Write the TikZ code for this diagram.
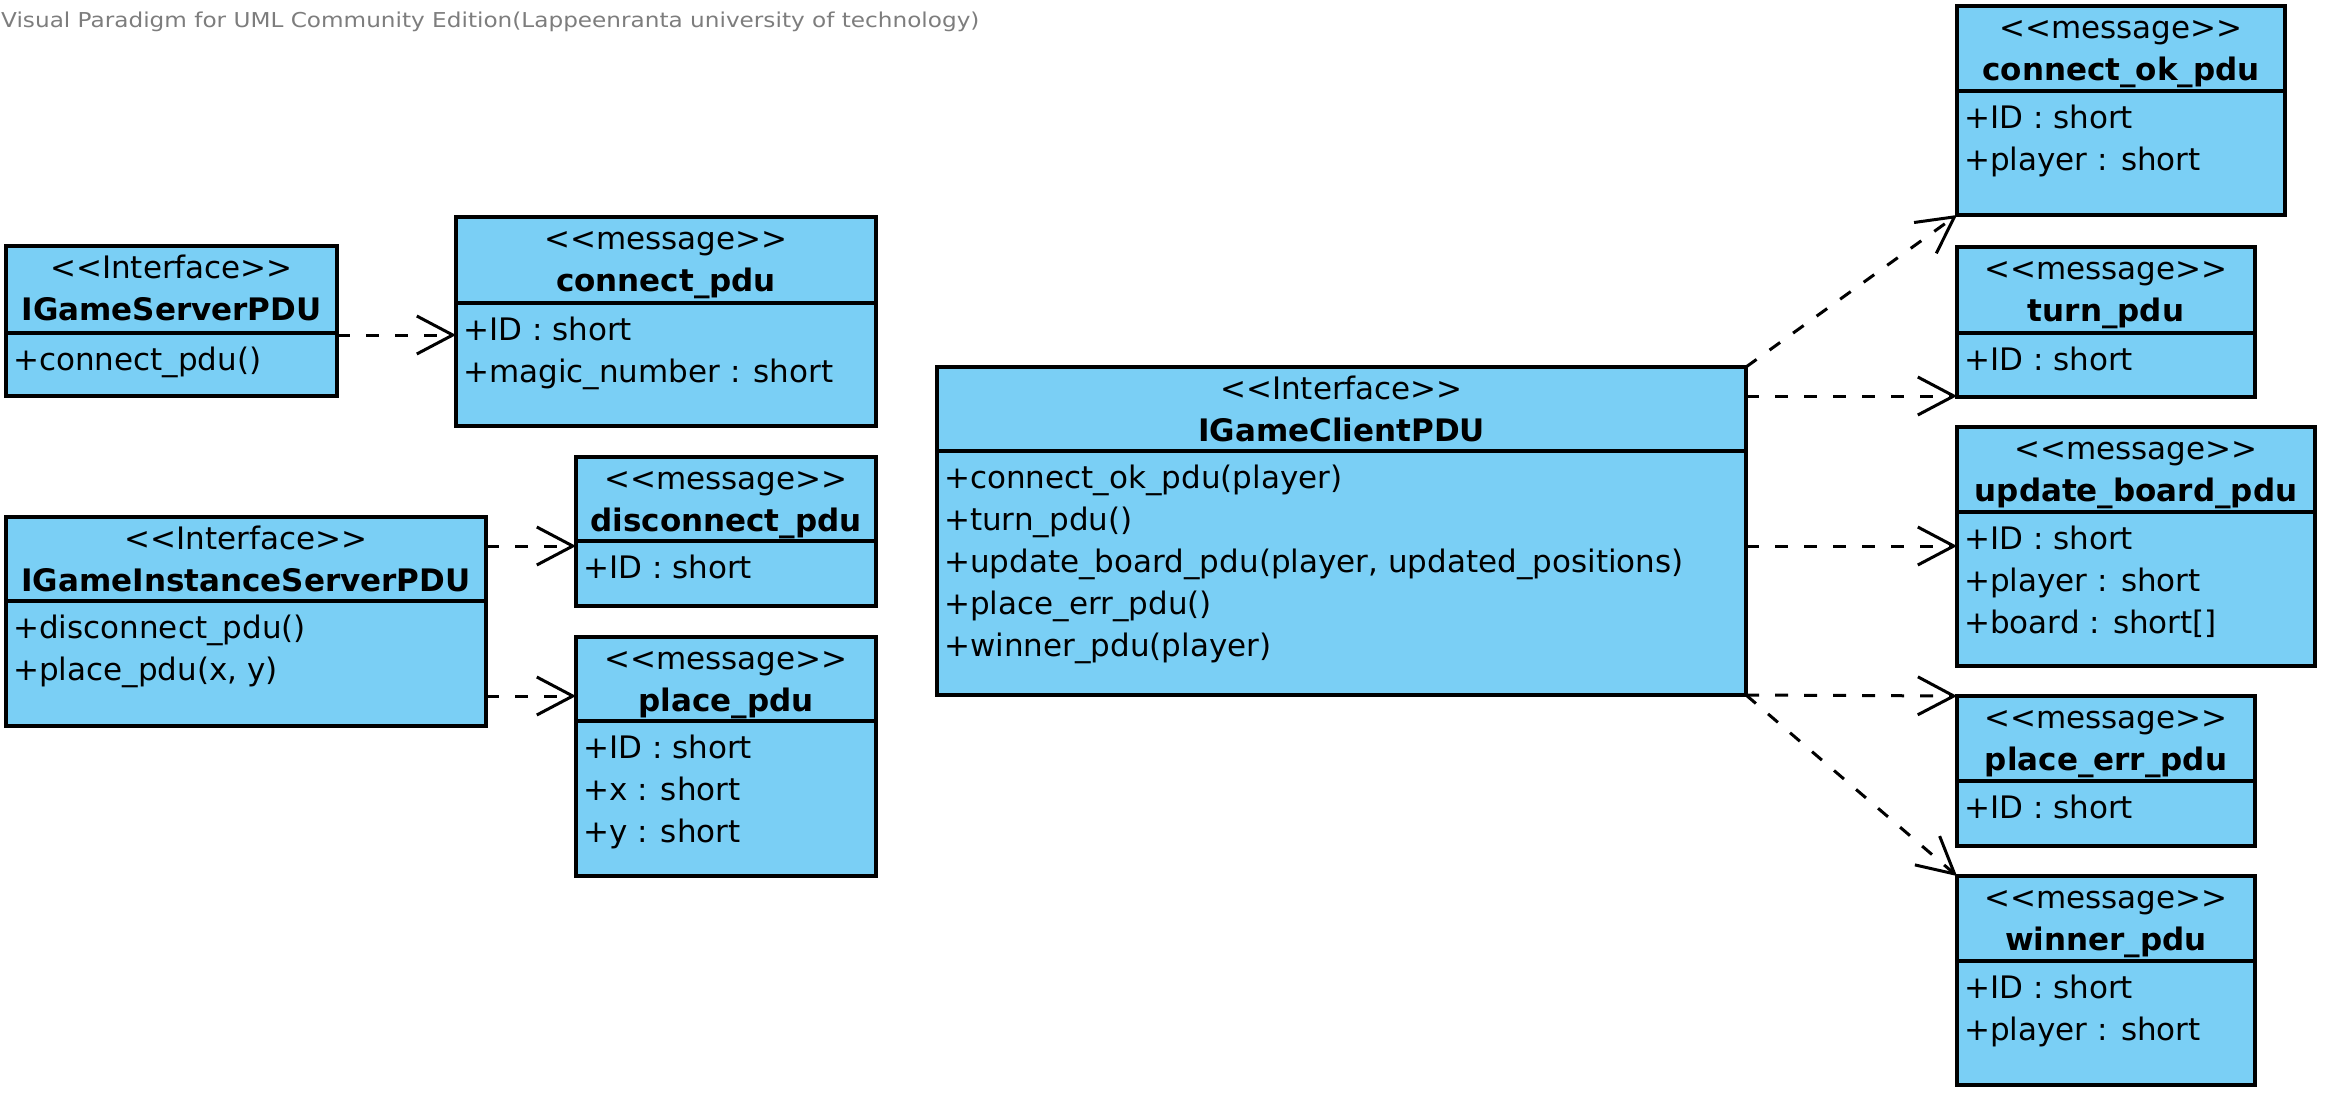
\documentclass[tikz,border=0pt]{standalone}
\usepackage{fontspec}
\setmainfont{DejaVu Sans}
\newfontfamily\wmfont[FakeStretch=1.13]{DejaVu Sans}
\usetikzlibrary{arrows.meta}
\definecolor{umlfill}{RGB}{122,207,245}
\definecolor{wmgray}{RGB}{125,125,125}
\tikzset{
  classbox/.style={draw=black, line width=3.5pt, fill=umlfill, anchor=north west, inner sep=0pt, outer sep=0pt},
  sepline/.style={draw=black, line width=3.5pt},
  headtxt/.style={anchor=north, inner sep=0pt, align=center, font=\fontsize{31}{42}\selectfont},
  attrtxt/.style={anchor=north west, inner sep=0pt, align=left, font=\fontsize{31}{42}\selectfont},
  dep/.style={draw=black, line width=3pt, dash pattern=on 13pt off 16pt, -{Straight Barb[length=36pt, width=38pt]}},
  wm/.style={anchor=base west, inner sep=0pt, text=wmgray, font=\wmfont\fontsize{20.5}{24}\selectfont},
}
\newcommand\umlclass[9]{%
  \node[classbox, minimum width=#4pt, minimum height=#5pt] (#1) at (#2,#3) {};
  \draw[sepline] ([yshift=-#6pt]#1.north west) -- ([yshift=-#6pt]#1.north east);
  \node[headtxt] (#1-head) at ([yshift=-2.6pt]#1.north) {\strut<{}<#7>{}>\\\textbf{#8}};
  \node[attrtxt] (#1-attr) at ([xshift=7pt,yshift=-#6pt-7.6pt]#1.north west) {\strut#9};
}
\begin{document}
\begin{tikzpicture}[x=1pt,y=-1pt]
\useasboundingbox (0,0) rectangle (2328,1098);
\node[wm] (watermark) at (1,27) {Visual Paradigm for UML Community Edition(Lappeenranta university of technology)};

\umlclass{isrv}{6}{246}{331}{150}{87}{Interface}{IGameServerPDU}{+connect\_pdu()}
\umlclass{conn}{456}{217}{420}{209}{86}{message}{connect\_pdu}{+ID : short\\+magic\_number : short}
\umlclass{iinst}{6}{517}{480}{209}{84}{Interface}{IGameInstanceServerPDU}{+disconnect\_pdu()\\+place\_pdu(x, y)}
\umlclass{disc}{576}{457}{300}{149}{84}{message}{disconnect\_pdu}{+ID : short}
\umlclass{place}{576}{637}{300}{239}{84}{message}{place\_pdu}{+ID : short\\+x : short\\+y : short}
\umlclass{icli}{937}{367}{809}{328}{84}{Interface}{IGameClientPDU}{+connect\_ok\_pdu(player)\\+turn\_pdu()\\+update\_board\_pdu(player, updated\_positions)\\+place\_err\_pdu()\\+winner\_pdu(player)}
\umlclass{conok}{1957}{6}{328}{209}{85}{message}{connect\_ok\_pdu}{+ID : short\\+player : short}
\umlclass{turn}{1957}{247}{298}{150}{86}{message}{turn\_pdu}{+ID : short}
\umlclass{upd}{1957}{427}{358}{239}{85}{message}{update\_board\_pdu}{+ID : short\\+player : short\\+board : short[]}
\umlclass{perr}{1957}{696}{298}{150}{85}{message}{place\_err\_pdu}{+ID : short}
\umlclass{win}{1957}{876}{298}{209}{85}{message}{winner\_pdu}{+ID : short\\+player : short}

\draw[dep] ([yshift=-89pt]isrv.north east) -- ([yshift=-89pt]isrv.north east -| conn.west);
\draw[dep] ([yshift=-29pt]iinst.north east) -- ([yshift=-29pt]iinst.north east -| disc.west);
\draw[dep] ([yshift=-179pt]iinst.north east) -- ([yshift=-179pt]iinst.north east -| place.west);
\draw[dep] (icli.north east) -- (conok.south west);
\draw[dep] ([yshift=-29pt]icli.north east) -- ([yshift=-29pt]icli.north east -| turn.west);
\draw[dep] ([yshift=-179pt]icli.north east) -- ([yshift=-179pt]icli.north east -| upd.west);
\draw[dep] (icli.south east) -- (perr.north west);
\draw[dep] (icli.south east) -- (win.north west);
\end{tikzpicture}
\end{document}
